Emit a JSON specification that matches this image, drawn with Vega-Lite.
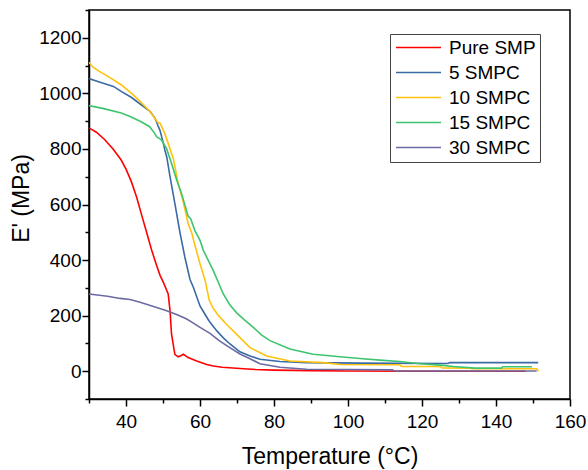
{
  "$schema": "https://vega.github.io/schema/vega-lite/v6.json",
  "autosize": "none",
  "padding": {"left": 89, "top": 10, "right": 18, "bottom": 71},
  "width": 481,
  "height": 389,
  "background": "white",
  "config": {
    "view": {"stroke": "black", "strokeWidth": 1.5},
    "font": "Liberation Sans",
    "axis": {
      "grid": false,
      "domainColor": "black",
      "domainWidth": 1.5,
      "tickColor": "black",
      "tickWidth": 1.5,
      "labelColor": "black",
      "titleColor": "black",
      "labelFont": "Liberation Sans",
      "titleFont": "Liberation Sans",
      "labelFontSize": 19,
      "titleFontSize": 23,
      "titleFontWeight": "normal"
    }
  },
  "data": {
    "values": [
      {"series": "Pure SMP", "T": 30, "E": 876},
      {"series": "Pure SMP", "T": 32, "E": 860},
      {"series": "Pure SMP", "T": 34.2, "E": 834},
      {"series": "Pure SMP", "T": 36.5, "E": 800},
      {"series": "Pure SMP", "T": 38.7, "E": 760},
      {"series": "Pure SMP", "T": 40, "E": 727},
      {"series": "Pure SMP", "T": 41.4, "E": 684},
      {"series": "Pure SMP", "T": 42.9, "E": 625},
      {"series": "Pure SMP", "T": 44.1, "E": 568},
      {"series": "Pure SMP", "T": 45.6, "E": 498},
      {"series": "Pure SMP", "T": 46.9, "E": 437},
      {"series": "Pure SMP", "T": 48.3, "E": 380},
      {"series": "Pure SMP", "T": 49.2, "E": 345},
      {"series": "Pure SMP", "T": 50.1, "E": 320},
      {"series": "Pure SMP", "T": 51.4, "E": 278},
      {"series": "Pure SMP", "T": 51.9, "E": 218},
      {"series": "Pure SMP", "T": 52.3, "E": 134},
      {"series": "Pure SMP", "T": 53.2, "E": 61},
      {"series": "Pure SMP", "T": 54.1, "E": 52},
      {"series": "Pure SMP", "T": 54.8, "E": 56},
      {"series": "Pure SMP", "T": 55.5, "E": 61},
      {"series": "Pure SMP", "T": 56.8, "E": 49},
      {"series": "Pure SMP", "T": 59.1, "E": 37},
      {"series": "Pure SMP", "T": 61.8, "E": 24},
      {"series": "Pure SMP", "T": 63.6, "E": 19},
      {"series": "Pure SMP", "T": 66, "E": 14},
      {"series": "Pure SMP", "T": 70.8, "E": 10},
      {"series": "Pure SMP", "T": 75, "E": 6},
      {"series": "Pure SMP", "T": 80, "E": 4},
      {"series": "Pure SMP", "T": 90, "E": 2},
      {"series": "Pure SMP", "T": 100, "E": 1},
      {"series": "Pure SMP", "T": 120, "E": 0},
      {"series": "Pure SMP", "T": 148, "E": 0},

      {"series": "5 SMPC", "T": 30, "E": 1053},
      {"series": "5 SMPC", "T": 33, "E": 1040},
      {"series": "5 SMPC", "T": 36.6, "E": 1025},
      {"series": "5 SMPC", "T": 38.7, "E": 1007},
      {"series": "5 SMPC", "T": 41.5, "E": 985},
      {"series": "5 SMPC", "T": 44.1, "E": 959},
      {"series": "5 SMPC", "T": 46.5, "E": 935},
      {"series": "5 SMPC", "T": 47.8, "E": 912},
      {"series": "5 SMPC", "T": 48.6, "E": 885},
      {"series": "5 SMPC", "T": 49.2, "E": 866},
      {"series": "5 SMPC", "T": 50.1, "E": 820},
      {"series": "5 SMPC", "T": 50.5, "E": 796},
      {"series": "5 SMPC", "T": 51, "E": 772},
      {"series": "5 SMPC", "T": 51.9, "E": 700},
      {"series": "5 SMPC", "T": 53.2, "E": 604},
      {"series": "5 SMPC", "T": 54.6, "E": 498},
      {"series": "5 SMPC", "T": 55.9, "E": 411},
      {"series": "5 SMPC", "T": 57.3, "E": 330},
      {"series": "5 SMPC", "T": 58.2, "E": 302},
      {"series": "5 SMPC", "T": 60, "E": 235},
      {"series": "5 SMPC", "T": 60.9, "E": 215},
      {"series": "5 SMPC", "T": 62.5, "E": 180},
      {"series": "5 SMPC", "T": 64.5, "E": 146},
      {"series": "5 SMPC", "T": 66.3, "E": 120},
      {"series": "5 SMPC", "T": 68.1, "E": 98},
      {"series": "5 SMPC", "T": 70.8, "E": 70},
      {"series": "5 SMPC", "T": 73.5, "E": 55},
      {"series": "5 SMPC", "T": 76.2, "E": 43},
      {"series": "5 SMPC", "T": 81.6, "E": 35},
      {"series": "5 SMPC", "T": 88.8, "E": 31},
      {"series": "5 SMPC", "T": 103.2, "E": 29},
      {"series": "5 SMPC", "T": 127, "E": 28},
      {"series": "5 SMPC", "T": 127.5, "E": 31},
      {"series": "5 SMPC", "T": 151.4, "E": 31},

      {"series": "10 SMPC", "T": 30, "E": 1112},
      {"series": "10 SMPC", "T": 31, "E": 1095},
      {"series": "10 SMPC", "T": 32.7, "E": 1080},
      {"series": "10 SMPC", "T": 35, "E": 1062},
      {"series": "10 SMPC", "T": 38.7, "E": 1031},
      {"series": "10 SMPC", "T": 41.5, "E": 1000},
      {"series": "10 SMPC", "T": 43.8, "E": 971},
      {"series": "10 SMPC", "T": 46.5, "E": 935},
      {"series": "10 SMPC", "T": 48.6, "E": 895},
      {"series": "10 SMPC", "T": 49.2, "E": 893},
      {"series": "10 SMPC", "T": 50.5, "E": 855},
      {"series": "10 SMPC", "T": 51.4, "E": 820},
      {"series": "10 SMPC", "T": 52.8, "E": 765},
      {"series": "10 SMPC", "T": 54.1, "E": 676},
      {"series": "10 SMPC", "T": 55.5, "E": 608},
      {"series": "10 SMPC", "T": 56.8, "E": 531},
      {"series": "10 SMPC", "T": 57.8, "E": 497},
      {"series": "10 SMPC", "T": 58.2, "E": 475},
      {"series": "10 SMPC", "T": 59.5, "E": 411},
      {"series": "10 SMPC", "T": 60, "E": 387},
      {"series": "10 SMPC", "T": 61.4, "E": 326},
      {"series": "10 SMPC", "T": 62.5, "E": 255},
      {"series": "10 SMPC", "T": 63.5, "E": 228},
      {"series": "10 SMPC", "T": 65, "E": 200},
      {"series": "10 SMPC", "T": 67.2, "E": 168},
      {"series": "10 SMPC", "T": 70.8, "E": 121},
      {"series": "10 SMPC", "T": 73.5, "E": 85},
      {"series": "10 SMPC", "T": 78, "E": 55},
      {"series": "10 SMPC", "T": 84.3, "E": 37},
      {"series": "10 SMPC", "T": 93.3, "E": 31},
      {"series": "10 SMPC", "T": 98, "E": 24},
      {"series": "10 SMPC", "T": 114, "E": 23},
      {"series": "10 SMPC", "T": 114.5, "E": 17},
      {"series": "10 SMPC", "T": 124.9, "E": 17},
      {"series": "10 SMPC", "T": 125.5, "E": 12},
      {"series": "10 SMPC", "T": 133, "E": 11},
      {"series": "10 SMPC", "T": 133.5, "E": 9},
      {"series": "10 SMPC", "T": 151, "E": 9},
      {"series": "10 SMPC", "T": 151.5, "E": 0},

      {"series": "15 SMPC", "T": 30, "E": 956},
      {"series": "15 SMPC", "T": 34, "E": 945},
      {"series": "15 SMPC", "T": 38.7, "E": 929},
      {"series": "15 SMPC", "T": 41.1, "E": 917},
      {"series": "15 SMPC", "T": 44.1, "E": 898},
      {"series": "15 SMPC", "T": 46.4, "E": 880},
      {"series": "15 SMPC", "T": 47.7, "E": 857},
      {"series": "15 SMPC", "T": 48.3, "E": 843},
      {"series": "15 SMPC", "T": 49.2, "E": 836},
      {"series": "15 SMPC", "T": 49.6, "E": 832},
      {"series": "15 SMPC", "T": 51, "E": 800},
      {"series": "15 SMPC", "T": 52.3, "E": 748},
      {"series": "15 SMPC", "T": 53.7, "E": 688},
      {"series": "15 SMPC", "T": 55, "E": 640},
      {"series": "15 SMPC", "T": 56.8, "E": 558},
      {"series": "15 SMPC", "T": 57.5, "E": 548},
      {"series": "15 SMPC", "T": 58.6, "E": 507},
      {"series": "15 SMPC", "T": 60, "E": 471},
      {"series": "15 SMPC", "T": 60.9, "E": 435},
      {"series": "15 SMPC", "T": 63.6, "E": 362},
      {"series": "15 SMPC", "T": 66.3, "E": 278},
      {"series": "15 SMPC", "T": 68, "E": 240},
      {"series": "15 SMPC", "T": 69.9, "E": 210},
      {"series": "15 SMPC", "T": 72, "E": 185},
      {"series": "15 SMPC", "T": 74.4, "E": 158},
      {"series": "15 SMPC", "T": 76.5, "E": 132},
      {"series": "15 SMPC", "T": 78.9, "E": 110},
      {"series": "15 SMPC", "T": 84.3, "E": 80},
      {"series": "15 SMPC", "T": 90.6, "E": 61},
      {"series": "15 SMPC", "T": 97.8, "E": 52},
      {"series": "15 SMPC", "T": 103.2, "E": 46},
      {"series": "15 SMPC", "T": 108.6, "E": 40},
      {"series": "15 SMPC", "T": 114, "E": 35},
      {"series": "15 SMPC", "T": 119.5, "E": 27},
      {"series": "15 SMPC", "T": 124.9, "E": 22},
      {"series": "15 SMPC", "T": 128.4, "E": 17},
      {"series": "15 SMPC", "T": 134.3, "E": 11},
      {"series": "15 SMPC", "T": 141.5, "E": 11},
      {"series": "15 SMPC", "T": 141.8, "E": 16},
      {"series": "15 SMPC", "T": 149.7, "E": 16},

      {"series": "30 SMPC", "T": 30, "E": 278},
      {"series": "30 SMPC", "T": 35, "E": 270},
      {"series": "30 SMPC", "T": 38.4, "E": 262},
      {"series": "30 SMPC", "T": 41.1, "E": 258},
      {"series": "30 SMPC", "T": 43.8, "E": 248},
      {"series": "30 SMPC", "T": 47, "E": 235},
      {"series": "30 SMPC", "T": 51, "E": 218},
      {"series": "30 SMPC", "T": 54, "E": 202},
      {"series": "30 SMPC", "T": 56.4, "E": 188},
      {"series": "30 SMPC", "T": 58, "E": 175},
      {"series": "30 SMPC", "T": 60, "E": 158},
      {"series": "30 SMPC", "T": 62.7, "E": 136},
      {"series": "30 SMPC", "T": 65, "E": 112},
      {"series": "30 SMPC", "T": 67.2, "E": 92},
      {"series": "30 SMPC", "T": 70.8, "E": 62},
      {"series": "30 SMPC", "T": 73.5, "E": 45},
      {"series": "30 SMPC", "T": 76.2, "E": 27},
      {"series": "30 SMPC", "T": 81.6, "E": 14},
      {"series": "30 SMPC", "T": 88.8, "E": 7},
      {"series": "30 SMPC", "T": 100, "E": 6},
      {"series": "30 SMPC", "T": 112, "E": 5},
      {"series": "30 SMPC", "T": 112.5, "E": 1},
      {"series": "30 SMPC", "T": 151, "E": 1}
    ]
  },
  "mark": {"type": "line", "strokeWidth": 1.6, "clip": true},
  "encoding": {
    "x": {
      "field": "T",
      "type": "quantitative",
      "scale": {"domain": [30, 160], "nice": false, "zero": false},
      "axis": {
        "title": "Temperature (°C)",
        "values": [30, 40, 50, 60, 70, 80, 90, 100, 110, 120, 130, 140, 150, 160],
        "labelExpr": "datum.value % 20 === 0 ? datum.label : ''",
        "tickSize": {"condition": {"test": "datum.value % 20 === 0", "value": 7}, "value": 4},
        "labelPadding": 6,
        "labelFlush": false,
        "labelOverlap": false,
        "titleBaseline": "alphabetic",
        "titleY": 64
      }
    },
    "y": {
      "field": "E",
      "type": "quantitative",
      "scale": {"domain": [-100, 1300], "nice": false, "zero": false},
      "axis": {
        "title": "E' (MPa)",
        "values": [-100, 0, 100, 200, 300, 400, 500, 600, 700, 800, 900, 1000, 1100, 1200, 1300],
        "labelExpr": "datum.value % 200 === 0 && datum.value >= 0 ? datum.label : ''",
        "tickSize": {"condition": {"test": "datum.value % 200 === 0", "value": 7}, "value": 4},
        "labelPadding": 1,
        "labelFlush": false,
        "labelOverlap": false,
        "format": "d",
        "titleBaseline": "alphabetic",
        "titleX": -61,
        "titleY": 188
      }
    },
    "color": {
      "field": "series",
      "type": "nominal",
      "scale": {
        "domain": ["Pure SMP", "5 SMPC", "10 SMPC", "15 SMPC", "30 SMPC"],
        "range": ["#FF0000", "#3B6BA5", "#FFC20E", "#3FC46E", "#6B6BA3"]
      },
      "legend": {
        "title": null,
        "orient": "none",
        "legendX": 301,
        "legendY": 24,
        "padding": 4,
        "strokeColor": "#444444",
        "fillColor": "white",
        "symbolType": "M-1,0H5",
        "symbolSize": 225,
        "symbolStrokeWidth": 1.6,
        "labelOffset": 36,
        "labelFontSize": 19,
        "labelFont": "Liberation Sans",
        "labelColor": "black",
        "rowPadding": 5
      }
    }
  }
}
